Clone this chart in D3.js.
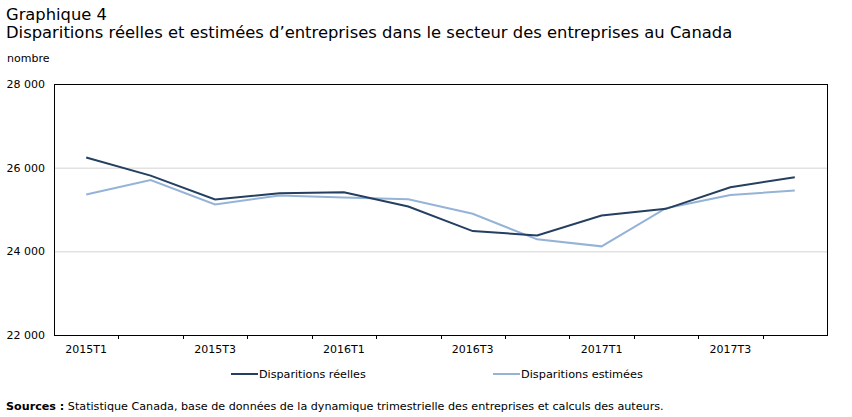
<!DOCTYPE html>
<html>
<head>
<meta charset="utf-8">
<script src="https://cdn.jsdelivr.net/npm/d3@7"></script>
<style>
  body { margin: 0; background: #fff; }
  svg text { font-family: "DejaVu Sans", Verdana, sans-serif; fill: #000; }
</style>
</head>
<body>
<div id="chart"></div>
<script>
// Data
let quarters = ["2015T1", "2015T2", "2015T3", "2015T4", "2016T1", "2016T2",
    "2016T3", "2016T4", "2017T1", "2017T2", "2017T3", "2017T4"];
let reelles = [26245, 25810, 25238, 25388, 25412, 25070, 24484, 24381, 24857, 25016, 25532, 25770];
let estimees = [25357, 25706, 25119, 25333, 25286, 25246, 24897, 24286, 24119, 25032, 25349, 25452];
let yTicks = [22000, 24000, 26000, 28000];
let seriesNames = ["Disparitions réelles", "Disparitions estimées"];
let seriesColors = ["#243f60", "#95b3d7"];

// dimensions
let width = 852;
let height = 417;
let plot = { left: 54, right: 827, top: 84, bottom: 335 };

let svg = d3.select("#chart")
    .append("svg")
    .attr("width", width)
    .attr("height", height);

// scale a text's font size so it spans the wanted width
function fitText(sel, size, target) {
    sel.style("font-size", size + "px");
    let w = sel.node().getComputedTextLength();
    if (w > 0) sel.style("font-size", (size * target / w) + "px");
}

// titles
let t1 = svg.append("text").attr("x", 6).attr("y", 20).text("Graphique 4");
fitText(t1, 15, 101);
let t2 = svg.append("text").attr("x", 6).attr("y", 38)
    .text("Disparitions réelles et estimées d’entreprises dans le secteur des entreprises au Canada");
fitText(t2, 15, 727);
svg.append("text").attr("x", 7).attr("y", 62)
    .style("font-size", "11px").text("nombre");

let x = d3.scaleBand()
    .domain(quarters)
    .range([plot.left, plot.right]);

let y = d3.scaleLinear()
    .domain([22000, 28000])
    .range([plot.bottom, plot.top]);

let fmt = function (d) { return d3.format(",")(d).replace(",", " "); };

// gridlines
svg.append("g")
    .selectAll("line")
    .data(yTicks.slice(1, -1))
    .enter()
    .append("line")
    .attr("x1", plot.left)
    .attr("x2", plot.right)
    .attr("y1", function (d) { return y(d) + 0.5; })
    .attr("y2", function (d) { return y(d) + 0.5; })
    .attr("stroke", "#d4d4d4")
    .attr("stroke-width", 1);

// y labels
svg.append("g")
    .selectAll("text")
    .data(yTicks)
    .enter()
    .append("text")
    .attr("x", 45)
    .attr("y", function (d) { return y(d) + 4; })
    .attr("text-anchor", "end")
    .style("font-size", "11px")
    .text(fmt);

// x axis ticks between bands
svg.append("g")
    .selectAll("line")
    .data(quarters.slice(1))
    .enter()
    .append("line")
    .attr("x1", function (d) { return Math.round(x(d)) + 0.5; })
    .attr("x2", function (d) { return Math.round(x(d)) + 0.5; })
    .attr("y1", plot.bottom)
    .attr("y2", plot.bottom + 4)
    .attr("stroke", "#000");

// x labels
svg.append("g")
    .selectAll("text")
    .data(quarters.filter(function (d, i) { return i % 2 === 0; }))
    .enter()
    .append("text")
    .attr("x", function (d) { return x(d) + x.bandwidth() / 2; })
    .attr("y", 353)
    .attr("text-anchor", "middle")
    .style("font-size", "11px")
    .text(function (d) { return d; });

// lines
let line = d3.line()
    .x(function (d, i) { return x(quarters[i]) + x.bandwidth() / 2; })
    .y(function (d) { return y(d); });

[estimees, reelles].forEach(function (s, k) {
    svg.append("path")
        .datum(s)
        .attr("d", line)
        .attr("fill", "none")
        .attr("stroke", seriesColors[1 - k])
        .attr("stroke-width", 2);
});

// frame
svg.append("rect")
    .attr("x", plot.left + 0.5)
    .attr("y", plot.top + 0.5)
    .attr("width", plot.right - plot.left)
    .attr("height", plot.bottom - plot.top)
    .attr("fill", "none")
    .attr("stroke", "#000");

// legend
let legendX = [231, 493];
seriesNames.forEach(function (name, i) {
    let g = svg.append("g");
    g.append("line")
        .attr("x1", legendX[i]).attr("x2", legendX[i] + 27)
        .attr("y1", 374).attr("y2", 374)
        .attr("stroke", seriesColors[i])
        .attr("stroke-width", 2);
    let lt = g.append("text")
        .attr("x", legendX[i] + 28)
        .attr("y", 378)
        .text(name);
    fitText(lt, 11, i === 0 ? 107 : 122);
});

// sources
let src = svg.append("text").attr("x", 6).attr("y", 410).style("font-size", "11px");
src.append("tspan").style("font-weight", "bold").text("Sources :");
src.append("tspan")
    .text(" Statistique Canada, base de données de la dynamique trimestrielle des entreprises et calculs des auteurs.");
fitText(src, 11, 659);
</script>
</body>
</html>
